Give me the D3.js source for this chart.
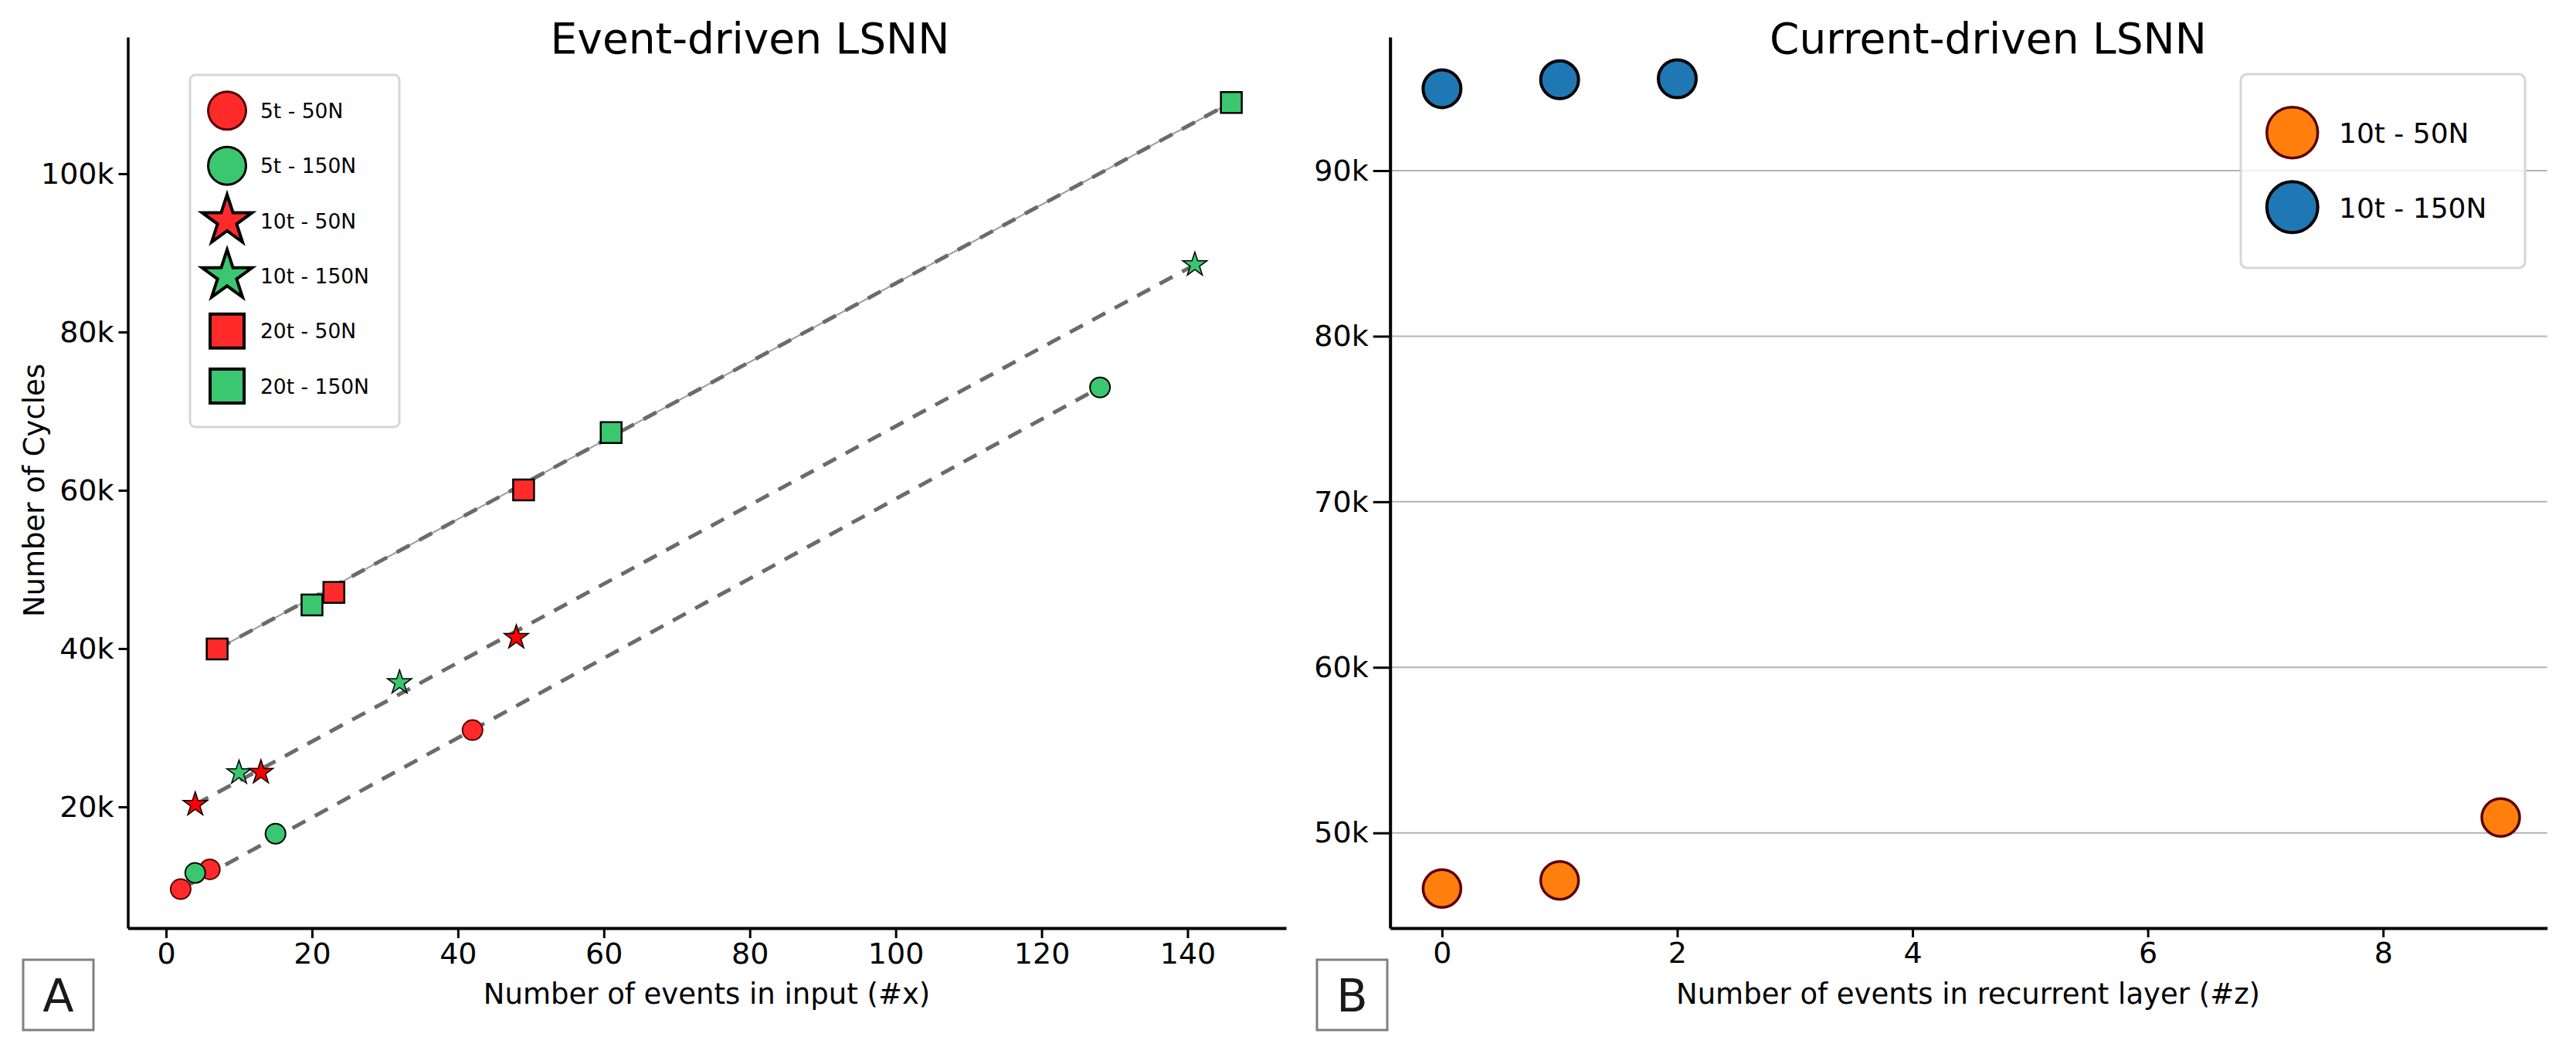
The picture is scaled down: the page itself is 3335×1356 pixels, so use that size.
<!DOCTYPE html>
<html>
<head>
<meta charset="utf-8">
<script src="https://cdn.jsdelivr.net/npm/d3@7"></script>
<style>
  body { margin: 0; background: #fff; }
  text { font-family: "DejaVu Sans", sans-serif; fill: #000; }
</style>
</head>
<body>
<svg id="chart" width="3335" height="1356"></svg>
<script>
// ---- data ----
const eventTicks = [0, 20, 40, 60, 80, 100, 120, 140]
const cycleTicksA = [20000, 40000, 60000, 80000, 100000]
const recurTicks = [0, 2, 4, 6, 8]
const cycleTicksB = [50000, 60000, 70000, 80000, 90000]

// panel A: [events in input, cycles]
const ev5t50N = [[2, 9600], [6, 12100], [42, 29700]]
const ev5t150N = [[4, 11650], [15, 16600], [128, 73000]]
const ev10t50N = [[4, 20300], [13, 24350], [48, 41400]]
const ev10t150N = [[10, 24300], [32, 35700], [141, 88500]]
const ev20t50N = [[7, 39950], [23, 47100], [49, 60050]]
const ev20t150N = [[20, 45500], [61, 67300], [146, 109000]]

// trend lines (end points)
const trend5t = [[2, 9600], [128, 73000]]
const trend10t = [[4, 20300], [141, 88500]]
const trend20t = [[7, 39950], [146, 109000]]

// panel B: [events in recurrent layer, cycles]
const cur10t50N = [[0, 46640], [1, 47130], [9, 50930]]
const cur10t150N = [[0, 94950], [1, 95490], [2, 95550]]

const legendA = ['5t - 50N', '5t - 150N', '10t - 50N', '10t - 150N', '20t - 50N', '20t - 150N']
const legendB = ['10t - 50N', '10t - 150N']

const titleA = 'Event-driven LSNN'
const titleB = 'Current-driven LSNN'
const xLabelA = 'Number of events in input (#x)'
const xLabelB = 'Number of events in recurrent layer (#z)'
const yLabelA = 'Number of Cycles'

// ---- colours ----
const RED = '#ff2b2b', PURE_RED = '#ff0000', GREEN = '#3ac76f', DARKRED = '#5c0000'
const ORANGE = '#ff7f0e', BLUE = '#1f77b4'

const svg = d3.select('#chart')
svg.append('rect').attr('width', 3335).attr('height', 1356).attr('fill', '#fff')

const kFmt = d => (d / 1000) + 'k'
const starSize = R => R * R / 0.8908130915292852
const circleSize = r => Math.PI * r * r

// ---- scales ----
const xA = d3.scaleLinear().domain([-5.24, 153.5]).range([165.5, 1665])
const yA = d3.scaleLinear().domain([4683, 117268]).range([1202, 48])
const xB = d3.scaleLinear().domain([-0.441, 9.395]).range([1799.7, 3297.7])
const yB = d3.scaleLinear().domain([44249, 98069]).range([1202, 48])

function axes(x, y, xt, yt, xLen, yLen, yWidth) {
  const gx = svg.append('g')
    .attr('transform', `translate(0,${y.range()[0]})`)
    .call(d3.axisBottom(x).tickValues(xt).tickSize(xLen).tickSizeOuter(0).tickPadding(6))
  const gy = svg.append('g')
    .attr('transform', `translate(${x.range()[0]},0)`)
    .call(d3.axisLeft(y).tickValues(yt).tickFormat(kFmt).tickSize(yLen).tickSizeOuter(0).tickPadding(6))
  gx.select('.domain').attr('stroke-width', 4)
  gy.select('.domain').attr('stroke-width', yWidth)
  for (const g of [gx, gy]) {
    g.selectAll('.tick line').attr('stroke-width', 3)
    g.selectAll('.tick text').attr('font-size', 38).attr('font-family', '"DejaVu Sans", sans-serif').attr('fill', '#000')
  }
}

// ---- panel B gridlines (under everything) ----
svg.append('g').selectAll('line').data(cycleTicksB).enter().append('line')
  .attr('x1', xB.range()[0]).attr('x2', xB.range()[1])
  .attr('y1', d => yB(d)).attr('y2', d => yB(d))
  .attr('stroke', '#b3b3b3').attr('stroke-width', 2)

// ---- panel A trend lines ----
const line = (x, y) => d3.line().x(d => x(d[0])).y(d => y(d[1]))
svg.append('path').attr('d', line(xA, yA)(trend20t))
  .attr('fill', 'none').attr('stroke', '#9a9a9a').attr('stroke-width', 2)
for (const t of [trend5t, trend10t, trend20t]) {
  svg.append('path').attr('d', line(xA, yA)(t))
    .attr('fill', 'none').attr('stroke', '#6b6b6b').attr('stroke-width', 5)
    .attr('stroke-dasharray', '19,14')
}

// ---- markers ----
function markers(data, x, y, type, size, fill, stroke, sw) {
  svg.append('g').selectAll('path').data(data).enter().append('path')
    .attr('d', d3.symbol().type(type).size(size))
    .attr('transform', d => `translate(${x(d[0])},${y(d[1])})`)
    .attr('fill', fill).attr('stroke', stroke).attr('stroke-width', sw)
}

markers(ev5t50N, xA, yA, d3.symbolCircle, circleSize(13), RED, DARKRED, 2)
markers(ev5t150N, xA, yA, d3.symbolCircle, circleSize(13), GREEN, '#000', 2)
markers(ev10t150N, xA, yA, d3.symbolStar, starSize(16.5), GREEN, '#000', 1.5)
markers(ev10t50N, xA, yA, d3.symbolStar, starSize(16.5), PURE_RED, '#000', 1.5)
markers(ev20t150N, xA, yA, d3.symbolSquare, 27 * 27, GREEN, '#000', 2.5)
markers(ev20t50N, xA, yA, d3.symbolSquare, 27 * 27, RED, '#000', 2.5)

markers(cur10t50N, xB, yB, d3.symbolCircle, circleSize(24.5), ORANGE, DARKRED, 3.5)
markers(cur10t150N, xB, yB, d3.symbolCircle, circleSize(24.5), BLUE, '#000', 4)

// ---- axes ----
axes(xA, yA, eventTicks, cycleTicksA, 13, 12, 3.5)
axes(xB, yB, recurTicks, cycleTicksB, 12, 22, 4)

// ---- titles & labels ----
svg.append('text').text(titleA).attr('x', 971).attr('y', 69)
  .attr('text-anchor', 'middle').attr('font-size', 55)
svg.append('text').text(titleB).attr('x', 2574).attr('y', 69)
  .attr('text-anchor', 'middle').attr('font-size', 55)
svg.append('text').text(xLabelA).attr('x', 915).attr('y', 1300)
  .attr('text-anchor', 'middle').attr('font-size', 37)
svg.append('text').text(xLabelB).attr('x', 2548).attr('y', 1300)
  .attr('text-anchor', 'middle').attr('font-size', 37)
svg.append('text').text(yLabelA)
  .attr('transform', 'translate(57,635) rotate(-90)')
  .attr('text-anchor', 'middle').attr('font-size', 37)

// panel letters
for (const [letter, x0] of [['A', 30], ['B', 1705]]) {
  svg.append('rect').attr('x', x0).attr('y', 1243).attr('width', 91).attr('height', 91)
    .attr('fill', '#fff').attr('stroke', '#808080').attr('stroke-width', 3)
  svg.append('text').text(letter).attr('x', x0 + 45.5).attr('y', 1310)
    .attr('text-anchor', 'middle').attr('font-size', 59).style('fill', '#1a1a1a')
}

// ---- legend A ----
const legA = svg.append('g')
legA.append('rect').attr('x', 246).attr('y', 97).attr('width', 271).attr('height', 456)
  .attr('rx', 7).attr('fill', '#fff').attr('fill-opacity', 0.8)
  .attr('stroke', '#d6d6d6').attr('stroke-width', 3)
const legAStyle = [
  [d3.symbolCircle, circleSize(24.5), RED, DARKRED, 3],
  [d3.symbolCircle, circleSize(24.5), GREEN, '#000', 3],
  [d3.symbolStar, starSize(34), RED, '#000', 4],
  [d3.symbolStar, starSize(34), GREEN, '#000', 4],
  [d3.symbolSquare, 44 * 44, RED, '#000', 4],
  [d3.symbolSquare, 44 * 44, GREEN, '#000', 4]
]
legendA.forEach((lab, i) => {
  const cy = 143.3 + i * 71.35
  const s = legAStyle[i]
  legA.append('path').attr('d', d3.symbol().type(s[0]).size(s[1]))
    .attr('transform', `translate(294,${cy})`)
    .attr('fill', s[2]).attr('stroke', s[3]).attr('stroke-width', s[4])
  legA.append('text').text(lab).attr('x', 337).attr('y', cy + 9.6).attr('font-size', 26.5)
})

// ---- legend B ----
const legB = svg.append('g')
legB.append('rect').attr('x', 2901).attr('y', 96).attr('width', 368).attr('height', 251)
  .attr('rx', 8).attr('fill', '#fff').attr('fill-opacity', 0.8)
  .attr('stroke', '#d6d6d6').attr('stroke-width', 3)
const legBStyle = [[ORANGE, DARKRED, 3.5], [BLUE, '#000', 4]]
legendB.forEach((lab, i) => {
  const cy = 171.7 + i * 96.6
  legB.append('path').attr('d', d3.symbol().type(d3.symbolCircle).size(circleSize(33)))
    .attr('transform', `translate(2967.7,${cy})`)
    .attr('fill', legBStyle[i][0]).attr('stroke', legBStyle[i][1]).attr('stroke-width', legBStyle[i][2])
  legB.append('text').text(lab).attr('x', 3028).attr('y', cy + 13.2).attr('font-size', 36)
})
</script>
</body>
</html>
